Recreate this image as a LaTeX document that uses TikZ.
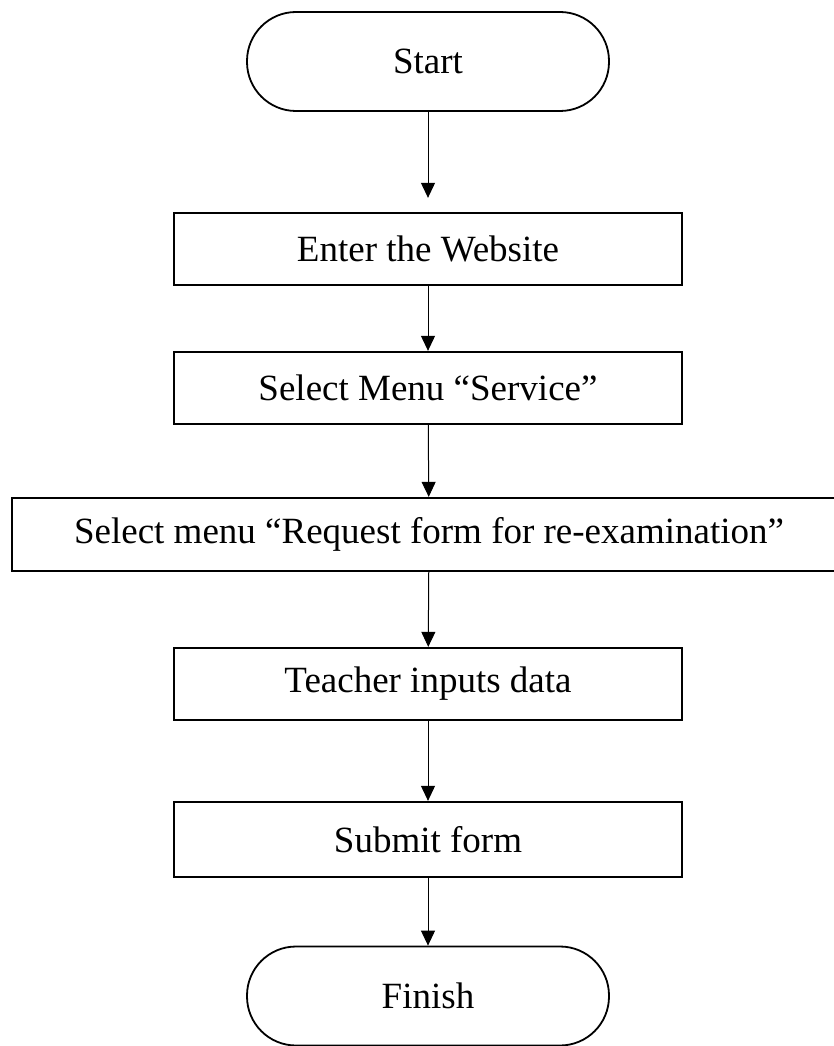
\documentclass[tikz,border=0pt]{standalone}
\usepackage{fontspec}
\setmainfont{Liberation Serif}
\usetikzlibrary{arrows.meta}
\begin{document}
\begin{tikzpicture}[x=1pt,y=-1pt,
  term/.style={draw, line width=1.8pt, rounded corners=49pt, minimum width=362pt, minimum height=99pt, inner sep=0pt, font=\fontsize{37}{44}\selectfont},
  stepbox/.style={draw, line width=2.3pt, minimum width=508pt, minimum height=72pt, inner sep=0pt, font=\fontsize{37}{44}\selectfont},
  flow/.style={line width=1pt, -{Triangle[length=15pt,width=14pt]}}]
\useasboundingbox (0,0) rectangle (834,1046);
\node[term] (start) at (428,61.5) {Start};
\node[stepbox] (b1) at (428,249) {Enter the Website};
\node[stepbox] (b2) at (428,388) {Select Menu “Service”};
\node[stepbox, minimum width=834pt, minimum height=73pt] (b3) at (429,534.5) {Select menu “Request form for re-examination”};
\node[stepbox] (b4) at (428,684) {Teacher inputs data};
\node[stepbox, minimum height=75pt] (b5) at (428,839.5) {Submit form};
\node[term] (finish) at (428,996) {Finish};
\draw[flow, shorten >=14pt] (start) -- (b1);
\draw[flow] (b1) -- (b2);
\draw[flow] (b2) -- (b3);
\draw[flow] (b3) -- (b4);
\draw[flow] (b4) -- (b5);
\draw[flow] (b5) -- (finish);
\end{tikzpicture}
\end{document}
